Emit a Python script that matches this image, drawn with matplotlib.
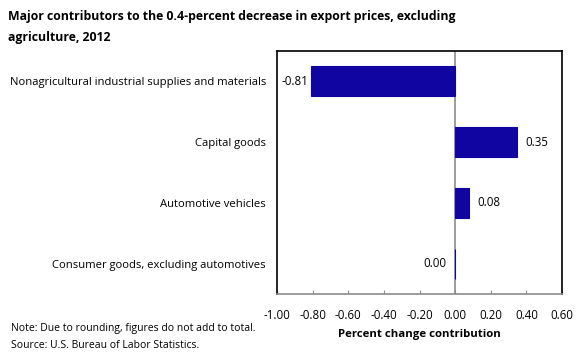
import matplotlib.pyplot as plt

categories = ["Nonagricultural industrial supplies and materials",
              "Capital goods",
              "Automotive vehicles",
              "Consumer goods, excluding automotives"]
values = [-0.81, 0.35, 0.08, 0.00]
labels = ["-0.81", "0.35", "0.08", "0.00"]
ticks = [-1.0, -0.8, -0.6, -0.4, -0.2, 0.0, 0.2, 0.4, 0.6]

plt.rcParams['font.family'] = ['Open Sans', 'DejaVu Sans']

fig = plt.figure(figsize=(5.8, 3.63), dpi=100)
ax = fig.add_axes([277/580, 1 - 294/363, 285/580, 243/363])

ypos = list(range(len(categories)))
ax.barh(ypos, values, height=0.49, color='#1005a0', edgecolor='#1005a0',
        linewidth=0.8, zorder=3)
ax.set_ylim(3.5, -0.5)
ax.set_xlim(-1.0, 0.6)
ax.axvline(0, color='#8c8c8c', lw=1.2, zorder=2)

for y, v, t in zip(ypos, values, labels):
    if v < 0:
        ax.text(v - 0.012, y, t, ha='right', va='center', fontsize=8.3)
    elif v > 0:
        ax.text(v + 0.045, y, t, ha='left', va='center', fontsize=8.3)
    else:
        ax.text(v - 0.05, y, t, ha='right', va='center', fontsize=8.3)

ax.set_yticks(ypos)
ax.set_yticklabels(categories, fontsize=8.1)
ax.tick_params(axis='y', length=0, pad=8)
ax.set_xticks(ticks)
ax.set_xticklabels([f"{t:.2f}" for t in ticks], fontsize=8.3)
ax.tick_params(axis='x', length=3, color='#8c8c8c', direction='in', pad=11)

for s in ['left', 'right', 'top']:
    ax.spines[s].set_color('black')
    ax.spines[s].set_linewidth(1.2)
ax.spines['bottom'].set_color('#8c8c8c')
ax.spines['bottom'].set_linewidth(1.2)

ax.set_xlabel("Percent change contribution", fontsize=8.2, fontweight='bold', labelpad=5)

fig.text(8/580, 1 - 27/363, "Major contributors to the 0.4-percent decrease in export prices, excluding\nagriculture, 2012",
         fontsize=8.8, fontweight='bold', va='center', ha='left', linespacing=1.75)
fig.text(11/580, 1 - 329/363, "Note: Due to rounding, figures do not add to total.", fontsize=7.5, va='center')
fig.text(11/580, 1 - 345/363, "Source: U.S. Bureau of Labor Statistics.", fontsize=7.5, va='center')

fig.savefig("out.png", dpi=100)
